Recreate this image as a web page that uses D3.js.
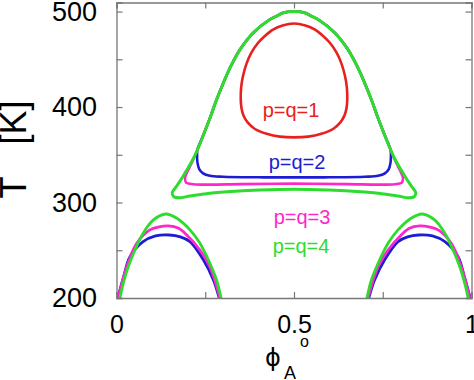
<!DOCTYPE html>
<html>
<head>
<meta charset="utf-8">
<script src="https://cdn.jsdelivr.net/npm/d3@7"></script>
<style>
  body { margin: 0; background: #fff; }
  text { font-family: "Liberation Sans", Arial, sans-serif; }
</style>
</head>
<body>
<div id="chart"></div>
<script>
// axis ticks
const xTicks = [0, 0.25, 0.5, 0.75, 1];
const xTickLabels = ['0', '', '0.5', '', '1'];
const yTicks = [200, 250, 300, 350, 400, 450, 500];
const yTickLabels = ['200', '', '300', '', '400', '', '500'];

// closed loops [phi, T]
const loopRed = [[0.5,487.5],[0.468,485.5],[0.441,481.2],[0.418,474.5],[0.399,467.3],[0.38,457],[0.367,446.3],[0.356,432],[0.351,420],[0.35,408],[0.352,399],[0.358,391],[0.37,383.6],[0.39,377],[0.423,372],[0.46,369],[0.5,368.2],
  [0.54,369],[0.577,372],[0.61,377],[0.63,383.6],[0.642,391],[0.648,399],[0.65,408],[0.649,420],[0.644,432],[0.633,446.3],[0.62,457],[0.601,467.3],[0.582,474.5],[0.559,481.2],[0.532,485.5]];

const loopGreen = [[0.5,500],[0.47,498.7],[0.451,495.2],[0.432,491.7],[0.385,477.7],[0.348,460.2],[0.322,442.7],[0.301,425.3],[0.282,407.8],[0.265,390.2],[0.247,372.8],[0.228,355.3],[0.215,345],[0.201,336],[0.185,326],[0.168,316.5],[0.157,310.5],[0.161,306.3],[0.178,305],[0.207,306.8],[0.263,309.7],[0.334,311.8],[0.404,313.1],[0.5,313.9],
  [0.596,313.1],[0.666,311.8],[0.737,309.7],[0.793,306.8],[0.822,305],[0.839,306.3],[0.843,310.5],[0.832,316.5],[0.815,326],[0.799,336],[0.785,345],[0.772,355.3],[0.753,372.8],[0.735,390.2],[0.718,407.8],[0.699,425.3],[0.678,442.7],[0.652,460.2],[0.615,477.7],[0.568,491.7],[0.549,495.2],[0.53,498.7]];

const loopMagenta = [[0.5,500],[0.47,498.7],[0.451,495.2],[0.432,491.7],[0.385,477.7],[0.348,460.2],[0.322,442.7],[0.301,425.3],[0.282,407.8],[0.265,390.2],[0.247,372.8],[0.228,355.3],[0.216,344.8],[0.206,337],[0.198,331],[0.193,325.5],[0.196,320.9],[0.216,319.2],[0.26,318.7],[0.35,319.3],[0.5,319.8],
  [0.65,319.3],[0.74,318.7],[0.784,319.2],[0.804,320.9],[0.807,325.5],[0.802,331],[0.794,337],[0.784,344.8],[0.772,355.3],[0.753,372.8],[0.735,390.2],[0.718,407.8],[0.699,425.3],[0.678,442.7],[0.652,460.2],[0.615,477.7],[0.568,491.7],[0.549,495.2],[0.53,498.7]];

const loopBlue = [[0.5,500],[0.47,498.7],[0.451,495.2],[0.432,491.7],[0.385,477.7],[0.348,460.2],[0.322,442.7],[0.301,425.3],[0.282,407.8],[0.265,390.2],[0.247,372.8],[0.228,355.3],[0.227,350],[0.228,342],[0.233,335],[0.244,330.5],[0.263,328],[0.3,327],[0.4,326.4],[0.5,326.3],
  [0.6,326.4],[0.7,327],[0.737,328],[0.756,330.5],[0.767,335],[0.772,342],[0.773,350],[0.772,355.3],[0.753,372.8],[0.735,390.2],[0.718,407.8],[0.699,425.3],[0.678,442.7],[0.652,460.2],[0.615,477.7],[0.568,491.7],[0.549,495.2],[0.53,498.7]];

// lower arches [phi, T]
const archBlueL = [[0.003,199],[0.02,222],[0.038,243.3],[0.075,259],[0.11,265],[0.149,266],[0.18,264],[0.207,259],[0.245,239.8],[0.273,218.9],[0.29,199]];
const archBlueR = [[0.71,199],[0.727,218.9],[0.755,239.8],[0.793,259],[0.82,264],[0.851,266],[0.89,265],[0.925,259],[0.962,243.3],[0.98,222],[0.997,199]];
const archMagentaL = [[0.004,199],[0.029,232.8],[0.057,257.3],[0.094,271.3],[0.12,274.5],[0.146,275.5],[0.175,273],[0.198,266],[0.235,250.3],[0.263,232.8],[0.292,199]];
const archMagentaR = [[0.708,199],[0.737,232.8],[0.765,250.3],[0.802,266],[0.825,273],[0.854,275.5],[0.88,274.5],[0.906,271.3],[0.943,257.3],[0.971,232.8],[0.996,199]];
const archGreenL = [[0.009,199],[0.019,215.4],[0.033,232.8],[0.052,250.3],[0.075,267.8],[0.104,281.8],[0.139,288],[0.17,283.5],[0.207,271.3],[0.235,257.3],[0.263,236.4],[0.282,218.9],[0.295,199]];
const archGreenR = [[0.705,199],[0.718,218.9],[0.737,236.4],[0.765,257.3],[0.793,271.3],[0.83,283.5],[0.861,288],[0.896,281.8],[0.925,267.8],[0.948,250.3],[0.967,232.8],[0.981,215.4],[0.991,199]];

const labels = ['p=q=1', 'p=q=2', 'p=q=3', 'p=q=4'];

const red = '#e82020', blue = '#1c1cd4', magenta = '#ff26cc', green = '#2ddc2d';

const width = 474, height = 380;
const x = d3.scaleLinear().domain([0, 1]).range([116.5, 471.5]);
const y = d3.scaleLinear().domain([200, 509.5]).range([298, 2.5]);

const svg = d3.select('#chart').append('svg')
  .attr('width', width)
  .attr('height', height);

svg.append('defs').append('clipPath').attr('id', 'plot')
  .append('rect')
  .attr('x', x(0)).attr('y', y(509.5))
  .attr('width', x(1) - x(0)).attr('height', y(200) - y(509.5));

const closed = d3.line().x(d => x(d[0])).y(d => y(d[1])).curve(d3.curveCatmullRomClosed.alpha(0.5));
const open = d3.line().x(d => x(d[0])).y(d => y(d[1])).curve(d3.curveCatmullRom.alpha(0.5));

const curves = svg.append('g').attr('clip-path', 'url(#plot)').attr('fill', 'none');

// order: blue, magenta, green on top
[[archBlueL, blue], [archBlueR, blue], [archMagentaL, magenta], [archMagentaR, magenta], [archGreenL, green], [archGreenR, green]]
  .forEach(([d, c]) => curves.append('path').attr('d', open(d)).attr('stroke', c).attr('stroke-width', 2.8));

[[loopBlue, blue], [loopMagenta, magenta], [loopGreen, green], [loopRed, red]]
  .forEach(([d, c]) => curves.append('path').attr('d', closed(d)).attr('stroke', c).attr('stroke-width', c === green ? 3 : 2.6));

// axes
const axisColor = '#777';
const axLeft = svg.append('g').attr('transform', `translate(${x(0)},0)`)
  .call(d3.axisLeft(y).tickValues(yTicks).tickSize(-6).tickPadding(19.5).tickFormat((d, i) => yTickLabels[i]));
const axRight = svg.append('g').attr('transform', `translate(${x(1)},0)`)
  .call(d3.axisRight(y).tickValues(yTicks).tickSize(-6).tickFormat(''));
const axBottom = svg.append('g').attr('transform', `translate(0,${y(200)})`)
  .call(d3.axisBottom(x).tickValues(xTicks).tickSize(-6).tickPadding(17).tickFormat((d, i) => xTickLabels[i]));
const axTop = svg.append('g').attr('transform', `translate(0,${y(509.5)})`)
  .call(d3.axisTop(x).tickValues(xTicks).tickSize(-6).tickFormat(''));

[axLeft, axRight, axBottom, axTop].forEach(g => {
  g.select('.domain').attr('stroke', axisColor).attr('stroke-width', 1.3);
  g.selectAll('.tick line').attr('stroke', axisColor).attr('stroke-width', 1.2);
  g.selectAll('.tick text').attr('fill', '#000').style('font-family', '"Liberation Sans", Arial, sans-serif');
});
axLeft.selectAll('.tick text').style('font-size', '27px');
axBottom.selectAll('.tick text').style('font-size', '25px');

// curve labels
const labelPos = [[291, 117, red], [297, 169, blue], [302, 224, magenta], [301, 252.5, green]];
labels.forEach((t, i) => {
  svg.append('text')
    .attr('x', labelPos[i][0]).attr('y', labelPos[i][1])
    .attr('text-anchor', 'middle')
    .attr('fill', labelPos[i][2])
    .style('font-size', '20px')
    .text(t);
});

// y axis title
svg.append('text')
  .attr('transform', 'translate(26,198.5) rotate(-90)')
  .style('font-size', '36px')
  .text('T')
  .append('tspan').attr('dx', 32).text('[K]');

// x axis title
const xl = svg.append('text').attr('x', 265).attr('y', 366).style('font-size', '24px');
xl.append('tspan').style('font-family', '"DejaVu Sans", sans-serif').text('ϕ');
xl.append('tspan').attr('x', 284).attr('y', 379).style('font-size', '18px').text('A');
svg.append('text').attr('x', 300).attr('y', 347).style('font-size', '16px').text('o');
</script>
</body>
</html>
